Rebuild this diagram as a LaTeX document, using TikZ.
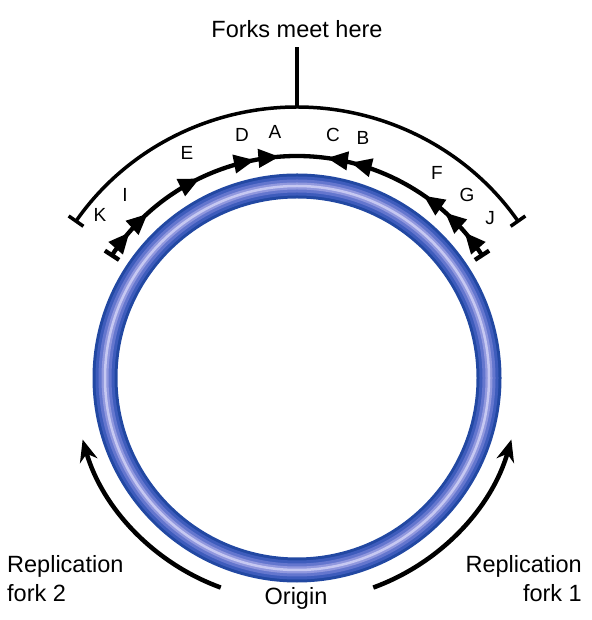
\documentclass[tikz,border=0pt]{standalone}
\usepackage{fontspec}
\setmainfont{Liberation Sans}
\usetikzlibrary{arrows.meta,decorations.markings}
\definecolor{ringA}{RGB}{34,72,162}
\definecolor{ringB}{RGB}{62,92,188}
\definecolor{ringC}{RGB}{100,118,206}
\definecolor{ringD}{RGB}{145,152,222}
\definecolor{ringE}{RGB}{198,200,242}
\tikzset{
  lbl/.style={font=\fontsize{23.5}{29}\selectfont, inner sep=0pt},
  letter/.style={font=\fontsize{19}{22}\selectfont, inner sep=0pt},
  fwd/.style={postaction={decorate, decoration={markings, mark=at position #1 with {\arrow{Triangle[length=21pt,width=18pt]}}}}},
  bwd/.style={postaction={decorate, decoration={markings, mark=at position #1 with {\arrowreversed{Triangle[length=21pt,width=18pt]}}}}},
  forkarrow/.style={line width=4.5pt, -{Stealth[length=22pt,width=18pt]}}
}
\begin{document}
\begin{tikzpicture}[x=1pt,y=1pt]
\useasboundingbox (0,0) rectangle (591,620);
\coordinate (C) at (297,242);
\begin{scope}[shift={(C)}]
  % ring (tube shading)
  \draw[ringA, line width=25pt] (0,0) circle[radius=192];
  \draw[ringB, line width=19pt] (0,0) circle[radius=192];
  \draw[ringC, line width=13pt] (0,0) circle[radius=192];
  \draw[ringD, line width=7pt] (0,0) circle[radius=192];
  \draw[ringE, line width=2.5pt] (0,0) circle[radius=192];
  % outer bracket arc
  \coordinate (ol) at (145:271);
  \coordinate (mt) at (90:271);
  \draw[line width=3.5pt, {Bar[width=18pt]}-{Bar[width=18pt]}] (ol) arc[start angle=145, end angle=35, radius=271];
  % inner arc with fragments
  \coordinate (il) at (147:222);
  \draw[line width=4.3pt, {Bar[width=17pt]}-{Bar[width=17pt]},
    fwd=0.070, fwd=0.129, fwd=0.272, fwd=0.404, fwd=0.460,
    bwd=0.568, bwd=0.623, bwd=0.805, bwd=0.867, bwd=0.930]
    (il) arc[start angle=147, end angle=33, radius=222];
  % fork arrows
  \coordinate (f2s) at (250:223);
  \coordinate (f1s) at (290:223);
  \draw[forkarrow] (f2s) arc[start angle=250, end angle=196, radius=223];
  \draw[forkarrow] (f1s) arc[start angle=290, end angle=344, radius=223];
\end{scope}
% top label
\node[lbl, anchor=base] (forks) at (297,582) {Forks meet here};
\coordinate (ft) at (297,573);
\draw[line width=3.5pt] (mt) -- (ft);
% letters
\node[letter] (K) at (100,405) {K};
\node[letter] (I) at (125,425) {I};
\node[letter] (E) at (187,467) {E};
\node[letter] (D) at (242,485) {D};
\node[letter] (A) at (275,488) {A};
\node[letter] (Cl) at (333,485) {C};
\node[letter] (B) at (363,482) {B};
\node[letter] (F) at (437,447) {F};
\node[letter] (G) at (467,425) {G};
\node[letter] (J) at (490,402) {J};
% bottom labels
\node[lbl, anchor=base west] (r2a) at (7,47) {Replication};
\node[lbl, anchor=base west] (r2b) at (7,18) {fork 2};
\node[lbl, anchor=base east] (r1a) at (582,47) {Replication};
\node[lbl, anchor=base east] (r1b) at (582,18) {fork 1};
\node[lbl, anchor=base] (origin) at (296,15) {Origin};
\end{tikzpicture}
\end{document}
